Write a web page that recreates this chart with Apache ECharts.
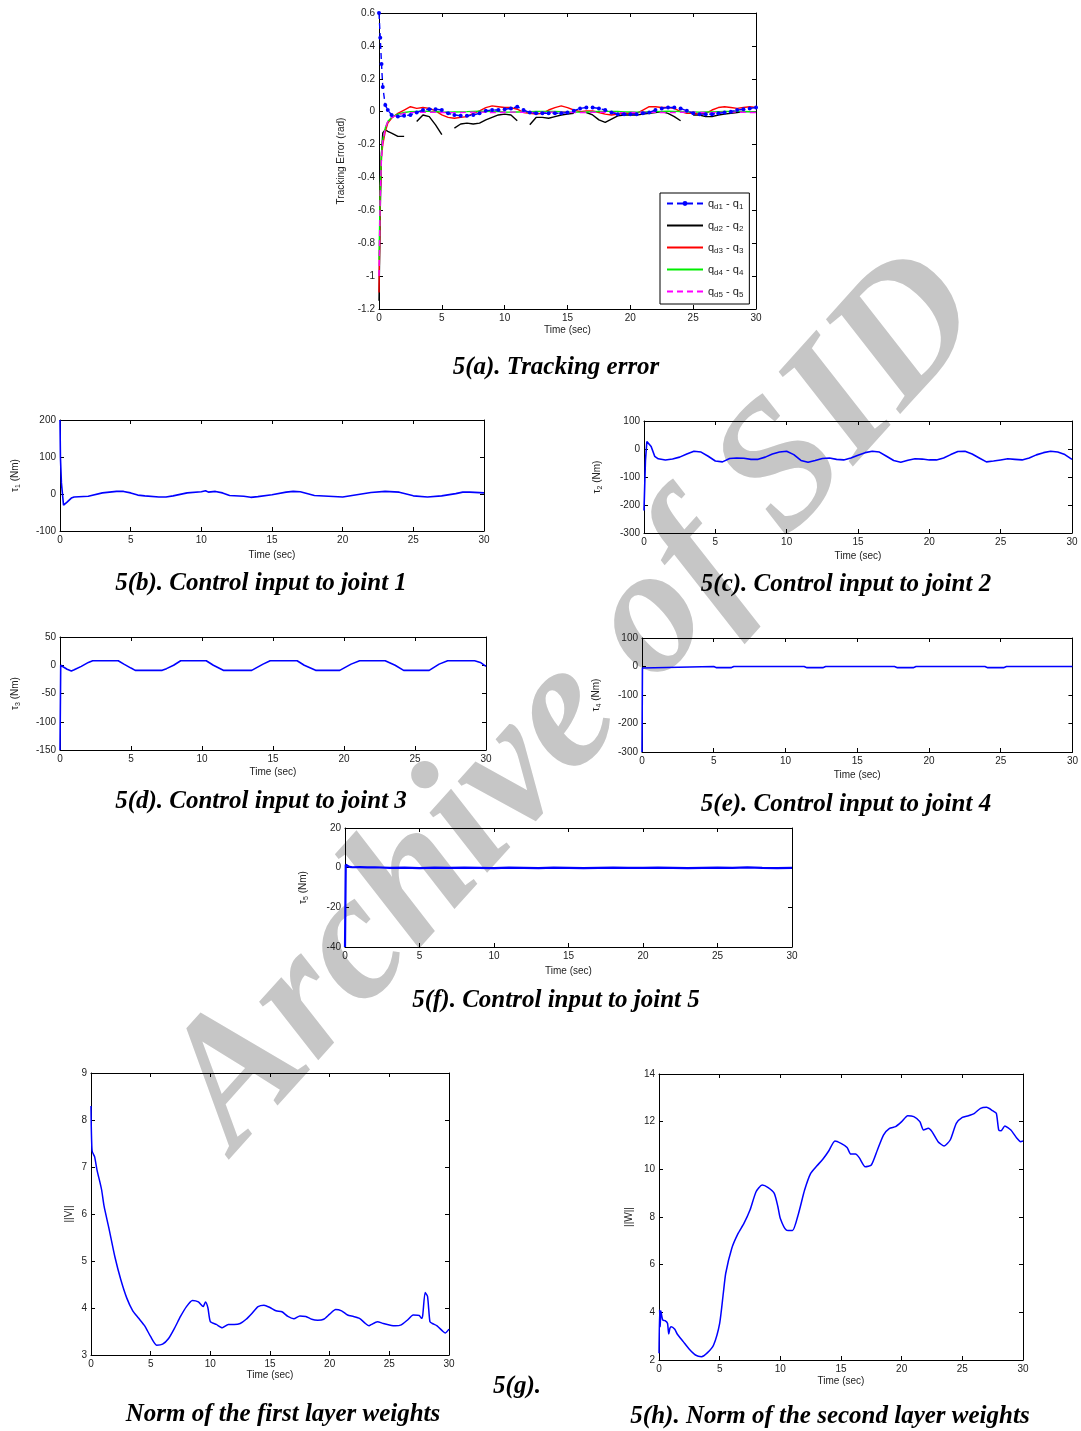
<!DOCTYPE html>
<html><head><meta charset="utf-8">
<script src="https://cdn.jsdelivr.net/npm/echarts@6/dist/echarts.min.js"></script>
<style>html,body{margin:0;padding:0;background:#fff}#c{width:1081px;height:1431px}</style>
</head><body><div id="c"></div>
<script>
// ---------- Panel (a): tracking errors ----------
const tA = [0,0.1,0.2,0.3,0.5,0.7,1,1.5,2,2.5,3,3.5,4,4.5,5,5.5,6,6.5,7,7.5,8,8.5,9,9.5,10,10.5,11,11.5,12,12.5,13,13.5,14,14.5,15,15.5,16,16.5,17,17.5,18,18.5,19,19.5,20,20.5,21,21.5,22,22.5,23,23.5,24,24.5,25,25.5,26,26.5,27,27.5,28,28.5,29,29.5,30];
const errQ1 = [0.6,0.45,0.29,0.15,0.04,0.01,-0.02, -0.03,-0.025,-0.02,-0.005,0.01,0.015,0.015,0.01,-0.01,-0.02, -0.025,-0.025,-0.02,-0.01,0.005,0.01,0.01,0.015,0.02,0.03, 0.01,-0.005,-0.01,-0.01,-0.01,-0.01,-0.01,-0.005,0.005,0.02, 0.025,0.025,0.02,0.01,-0.005,-0.015,-0.015,-0.015,-0.015,-0.01, -0.005,0.01,0.02,0.025,0.025,0.02,0.005,-0.01,-0.015,-0.015, -0.015,-0.01,-0.005,0,0.01,0.015,0.02,0.025];
const errQ2 = [-1.15,-0.6,-0.25,-0.13,-0.11,-0.12,-0.13, -0.15,-0.15,null,-0.06,-0.02,-0.03,-0.08,-0.14,null,-0.1, -0.075,-0.07,-0.075,-0.07,-0.05,-0.035,-0.02,-0.015,-0.02,-0.055, null,-0.08,-0.035,-0.035,-0.04,-0.03,-0.02,-0.015,-0.01,null, -0.005,-0.02,-0.05,-0.065,-0.045,-0.025,-0.02,-0.02,-0.02,-0.015, -0.01,-0.005,0,-0.01,-0.03,-0.055,null,-0.02,-0.02,-0.03, -0.03,-0.02,-0.015,-0.01,-0.005,0,0,0];
const errQ3 = [-1.1,-0.5,-0.27,-0.2,-0.12,-0.07,-0.04, -0.01,0.01,0.03,0.02,0.025,0.02,0.005,-0.02,-0.035,-0.04, -0.035,-0.03,-0.01,0.005,0.025,0.035,0.03,0.025,0.025,0.015, -0.005,-0.01,-0.015,-0.01,0.01,0.025,0.035,0.025,0.01,0, 0.005,0.005,-0.005,-0.015,-0.02,-0.015,-0.01,-0.01,-0.01,0.01, 0.03,0.03,0.025,0.025,0.02,0,-0.01,-0.01,-0.015,-0.01, 0.01,0.025,0.03,0.025,0.02,0.025,0.03,0.025];
const errQ4 = [-0.9,-0.45,-0.25,-0.17,-0.1,-0.06,-0.035, -0.015,-0.005,0,0.002,0.003,0.002,0,-0.002,-0.003,-0.002, -0.001,0,0.002,0.003,0.002,0.001,0,-0.002,-0.003,-0.002, -0.001,0,0.001,0.002,0.002,0.001,0,-0.002,-0.003,-0.003, -0.002,0,0.001,0.002,0.002,0.001,-0.001,-0.002,-0.003,-0.002, -0.001,0,0.002,0.003,0.002,0.001,-0.001,-0.002,-0.003,-0.002, -0.001,0,0.001,0.002,0.002,0.001,0,-0.001];
const errQ5 = [-1.0,-0.5,-0.28,-0.18,-0.1,-0.06,-0.035, -0.02,-0.01,-0.006,-0.004,-0.004,-0.003,-0.004,-0.005,-0.006,-0.006, -0.005,-0.004,-0.003,-0.003,-0.004,-0.005,-0.005,-0.004,-0.003,-0.003, -0.004,-0.005,-0.006,-0.005,-0.004,-0.003,-0.003,-0.004,-0.005,-0.006, -0.005,-0.004,-0.003,-0.004,-0.005,-0.006,-0.006,-0.005,-0.004,-0.003, -0.003,-0.004,-0.005,-0.006,-0.005,-0.004,-0.003,-0.003,-0.004,-0.005, -0.006,-0.005,-0.004,-0.003,-0.003,-0.004,-0.005,-0.005];
const legendSubs = [['d1','1'],['d2','2'],['d3','3'],['d4','4'],['d5','5']];

// ---------- Panel (b): tau1 ----------
const tB = [0,0.03,0.1,0.25,0.5,0.8,1,2,3,4,4.5,5,5.5,6,7,7.5,8,9,10,10.3,10.5,11,11.5,12,13,13.5,14,15,16,16.5,17,18,19,20,21,22,23,24,25,26,27,28,28.5,29,30];
const tau1 = [200,100,30,-30,-22,-11,-8,-6,3,7,7,3,-3,-5,-8,-8,-5,3,6,9,5,7,3,-4,-6,-9,-7,-2,5,7,6,-4,-6,-8,-2,4,7,5,-5,-8,-5,1,5,5,3];

// ---------- Panel (c): tau2 ----------
const tC = [0,0.1,0.2,0.33,0.5,0.75,1,1.5,2,2.5,3,3.5,4,4.5,5,5.5,6,6.5,7,7.5,8,8.5,9,9.5,10,10.5,11,11.5,12,12.5,13,13.5,14,14.5,15,15.5,16,16.5,17,17.5,18,18.5,19,19.5,20,20.5,21,21.5,22,22.5,23,23.5,24,24.5,25,25.5,26,26.5,27,27.5,28,28.5,29,29.5,30];
const tau2 = [-220,-43,27,33,9,-26,-35,-39,-36,-29,-18,-8,-11,-26,-43,-46,-34,-32,-33,-37,-37,-29,-18,-11,-8,-20,-41,-47,-41,-34,-32,-37,-39,-32,-22,-13,-8,-11,-26,-41,-47,-40,-35,-36,-39,-39,-32,-20,-9,-8,-18,-32,-46,-43,-39,-35,-37,-39,-32,-21,-13,-8,-11,-20,-37];

// ---------- Panel (d): tau3 ----------
const tD = [0,0.05,0.1,0.3,0.5,0.8,1,1.5,2,2.3,4.1,4.5,5,5.3,7.2,7.5,8,8.5,10.3,10.8,11.5,13.5,14.3,14.8,16.7,17.2,18,19.7,20.5,21.1,22.9,23.6,24.2,26,26.7,27.3,29.2,29.6,30];
const tau3 = [-150,0,-1,-4,-7,-10,-8,-2,5,8,8,2,-5,-9,-9,-6,0,8,8,0,-9,-9,2,8,8,0,-9,-9,2,8,8,0,-9,-9,2,8,8,5,-2];

// ---------- Panel (e): tau4 ----------
const tE = [0,0.03,0.1,5.0,5.2,6.2,6.4,11.3,11.5,12.6,12.8,17.6,17.8,18.9,19.1,23.9,24.1,25.2,25.4,30];
const tau4 = [-300,-5,0,0,-4,-4,0,0,-4,-4,0,0,-4,-4,0,0,-4,-4,0,0];

// ---------- Panel (f): tau5 ----------
const tF = [0,0.05,0.15,0.3,0.5,1,1.5,2,3,4,5,6,7,8,9,10,11,12,13,14,15,16,17,18,19,20,21,22,23,24,25,26,27,28,29,30];
const tau5 = [-40,1.5,0.8,0.4,0.2,0.3,0.1,0.2,-0.1,0,-0.2,0,-0.1,0,-0.1,-0.2,0,-0.1,-0.2,0,-0.1,-0.2,-0.1,0,-0.1,-0.1,0,-0.1,-0.2,-0.1,0,-0.1,0.1,-0.1,-0.2,-0.1];

// ---------- Panel (g): ||V|| ----------
const tG = [0,0.02,0.05,0.1,0.3,0.5,0.8,0.9,1.1,1.5,2,2.5,3,3.5,4,4.5,5,5.5,6,6.5,7,7.5,8,8.5,9,9.4,9.6,9.8,10,10.5,11,11.5,12,12.5,13,13.5,14,14.5,15,15.5,16,16.5,17,17.5,18,18.5,19,19.5,20,20.5,21,21.5,22,22.5,23,23.3,23.5,24,24.5,25,25.5,26,26.5,27,27.5,27.7,27.8,28,28.2,28.4,28.6,29,29.5,29.7,30];
const normV = [8.3,7.9,7.58,7.33,7.22,6.94,6.62,6.5,6.16,5.7,5.09,4.6,4.21,3.94,3.78,3.62,3.39,3.21,3.23,3.35,3.57,3.82,4.03,4.16,4.13,4.03,4.13,4.0,3.71,3.65,3.58,3.65,3.65,3.67,3.76,3.89,4.03,4.06,4.01,3.94,3.92,3.82,3.77,3.83,3.82,3.76,3.74,3.76,3.87,3.97,3.94,3.85,3.82,3.78,3.67,3.62,3.65,3.71,3.67,3.64,3.62,3.64,3.74,3.85,3.84,3.78,3.85,4.33,4.25,3.71,3.67,3.62,3.5,3.47,3.55];

// ---------- Panel (h): ||W|| ----------
const tH = [0,0.05,0.1,0.15,0.3,0.5,0.7,0.8,0.9,1,1.3,1.5,2,2.5,3,3.5,4,4.5,5,5.3,5.5,6,6.5,7,7.5,8,8.5,9,9.5,9.8,10,10.5,11,11.5,12,12.5,13,13.5,14,14.5,15,15.5,15.8,16.2,16.5,17,17.5,18,18.5,19,19.5,20,20.5,21,21.5,21.8,22.2,22.5,23,23.5,24,24.5,25,25.5,26,26.5,27,27.5,27.8,28,28.2,28.5,29,29.5,29.8,30];
const normW = [2.28,4.1,3.4,4.07,3.68,3.65,3.54,3.09,3.33,3.4,3.29,3.09,2.77,2.45,2.21,2.14,2.31,2.63,3.54,4.8,5.64,6.69,7.29,7.73,8.29,9.06,9.34,9.23,8.99,8.43,7.94,7.45,7.43,8.15,9.13,9.83,10.14,10.42,10.78,11.19,11.09,10.92,10.64,10.64,10.49,10.11,10.18,10.81,11.44,11.72,11.79,12.0,12.25,12.21,12.0,11.65,11.72,11.58,11.16,10.98,11.23,11.93,12.18,12.25,12.35,12.56,12.6,12.46,12.35,11.65,11.62,11.82,11.65,11.3,11.16,11.19];

// ---------- texts ----------
const captions = [
  ['5(a). Tracking error', 556, 368],
  ['5(b). Control input to joint 1', 261, 584],
  ['5(c). Control input to joint 2', 846, 585],
  ['5(d). Control input to joint 3', 261, 802],
  ['5(e). Control input to joint 4', 846, 805],
  ['5(f). Control input to joint 5', 556, 1001],
  ['5(g).', 517, 1387],
  ['Norm of the first layer weights', 283, 1415],
  ['5(h). Norm of the second layer weights', 830, 1417]
];
const watermark = 'Archive of SID';
const xName = 'Time (sec)';

// ---------- build ----------
const SANS = '"Liberation Sans", Arial, sans-serif';
const SERIF = '"Liberation Serif", "Times New Roman", serif';
const zip = (t, v) => t.map((x, i) => [x, v[i]]);
const tau = n => '{n|τ}{s|' + n + '}{n| (Nm)}';
const rich = {
  n: {fontSize: 10, fontFamily: SANS, color: '#222', lineHeight: 14},
  s: {fontSize: 7, fontFamily: SANS, color: '#222', lineHeight: 8, verticalAlign: 'bottom'}
};

const panels = [
  {g:[379,13,377,296], y:[-1.2,0.6,0.2], yName:'Tracking Error (rad)', yGap:33, xGap:16},
  {g:[60,420,424,111], y:[-100,200,100], yName:tau(1), yGap:38, xGap:19},
  {g:[644,421,428,112], y:[-300,100,100], yName:tau(2), yGap:40, xGap:18},
  {g:[60,637,426,113], y:[-150,50,50], yName:tau(3), yGap:38, xGap:17},
  {g:[642,638,431,114], y:[-300,100,100], yName:tau(4), yGap:39, xGap:18},
  {g:[345,828,447,119], y:[-40,20,20], yName:tau(5), yGap:35, xGap:19},
  {g:[91,1073,358,282], y:[3,9,1], yName:'||V||', yGap:17, xGap:15},
  {g:[659,1074,364,286], y:[2,14,2], yName:'||W||', yGap:25, xGap:16}
];

const grid = [], xAxis = [], yAxis = [];
const lineAx = {show: true, onZero: false, lineStyle: {color: '#000', width: 1}};
const tickAx = {show: true, inside: true, length: 4, lineStyle: {color: '#000', width: 1}};
const lbl = {fontSize: 10, color: '#222', fontFamily: SANS, margin: 4};
panels.forEach((p, i) => {
  grid.push({left: p.g[0], top: p.g[1], width: p.g[2], height: p.g[3], show: false, containLabel: false});
  xAxis.push({gridIndex: i, type: 'value', min: 0, max: 30, interval: 5, position: 'bottom',
    axisLine: lineAx, axisTick: tickAx, axisLabel: lbl, splitLine: {show: false},
    name: xName, nameLocation: 'middle', nameGap: p.xGap,
    nameTextStyle: {fontSize: 10, color: '#222', fontFamily: SANS}});
  xAxis.push({gridIndex: i, type: 'value', min: 0, max: 30, interval: 5, position: 'top',
    axisLine: lineAx, axisTick: tickAx, axisLabel: {show: false}, splitLine: {show: false}});
  yAxis.push({gridIndex: i, type: 'value', min: p.y[0], max: p.y[1], interval: p.y[2], position: 'left',
    axisLine: lineAx, axisTick: tickAx, axisLabel: lbl, splitLine: {show: false},
    name: p.yName, nameLocation: 'middle', nameGap: p.yGap,
    nameTextStyle: {fontSize: 10, color: '#222', fontFamily: SANS, rich: rich}});
  yAxis.push({gridIndex: i, type: 'value', min: p.y[0], max: p.y[1], interval: p.y[2], position: 'right',
    axisLine: lineAx, axisTick: tickAx, axisLabel: {show: false}, splitLine: {show: false}});
});

const BLUE = '#0000ff';
const series = [];
function addLine(i, name, t, v, color, width, extra) {
  series.push(Object.assign({
    type: 'line', name: name, xAxisIndex: 2 * i, yAxisIndex: 2 * i,
    data: zip(t, v), symbol: 'none', showSymbol: false, connectNulls: false,
    lineStyle: {color: color, width: width}, itemStyle: {color: color},
    animation: false, silent: true, z: 3
  }, extra || {}));
}
const legNames = legendSubs.map(s => 'qd' + s[0].slice(1) + ' - q' + s[1]);
addLine(0, legNames[1], tA, errQ2, '#000000', 1.4);
addLine(0, legNames[2], tA, errQ3, '#ff0000', 1.4);
addLine(0, legNames[3], tA, errQ4, '#00ee00', 1.4);
addLine(0, legNames[4], tA, errQ5, '#ff00ff', 1.4, {lineStyle: {color: '#ff00ff', width: 1.4, type: [6, 4]}});
addLine(0, legNames[0], tA, errQ1, BLUE, 1.4, {symbol: 'circle', symbolSize: 4, showSymbol: true,
  lineStyle: {color: BLUE, width: 1.4, type: [6, 4]}, itemStyle: {color: BLUE, borderWidth: 0}});
addLine(1, 'tau1', tB, tau1, BLUE, 1.6);
addLine(2, 'tau2', tC, tau2, BLUE, 1.6);
addLine(3, 'tau3', tD, tau3, BLUE, 1.6);
addLine(4, 'tau4', tE, tau4, BLUE, 1.6);
addLine(5, 'tau5', tF, tau5, BLUE, 2.2);
addLine(6, 'V', tG, normV, BLUE, 1.5, {smooth: 0.2});
addLine(7, 'W', tH, normW, BLUE, 1.5, {smooth: 0.2});

const legendRich = {
  n: {fontSize: 11, fontFamily: SANS, color: '#222', lineHeight: 15},
  s: {fontSize: 8, fontFamily: SANS, color: '#222', lineHeight: 9, verticalAlign: 'bottom'}
};
const hidden = {color: 'rgba(0,0,0,0)', borderColor: 'rgba(0,0,0,0)', borderWidth: 0, opacity: 0};
const legendData = legNames.map((n, k) => k === 0 ? {name: n} : {name: n, itemStyle: hidden});

const graphic = [{
  type: 'text', x: 577, y: 703, rotation: 48 * Math.PI / 180, z: -10, silent: true,
  style: {text: watermark, font: 'italic bold 181px ' + SERIF, fill: '#c6c6c6', align: 'center', verticalAlign: 'middle'}
}];
captions.forEach(c => graphic.push({
  type: 'text', x: c[1], y: c[2], z: 50, silent: true,
  style: {text: c[0], font: 'italic bold 25px ' + SERIF, fill: '#000', align: 'center', verticalAlign: 'middle'}
}));

const option = {
  backgroundColor: '#fff',
  animation: false,
  grid: grid, xAxis: xAxis, yAxis: yAxis, series: series,
  legend: {
    orient: 'vertical', left: 660, top: 193, data: legendData,
    itemWidth: 36, itemHeight: 6, itemGap: 9,
    padding: [5, 6, 5, 6], borderColor: '#000', borderWidth: 1, backgroundColor: '#fff',
    selectedMode: false, z: 20,
    textStyle: {fontSize: 11, color: '#222', fontFamily: SANS, rich: legendRich},
    formatter: function (name) {
      const k = legNames.indexOf(name);
      return '{n|q}{s|' + legendSubs[k][0] + '}{n| - q}{s|' + legendSubs[k][1] + '}';
    }
  },
  graphic: graphic
};
const chart = echarts.init(document.getElementById('c'), null, {renderer: 'canvas'});
chart.setOption(option);
</script></body></html>
